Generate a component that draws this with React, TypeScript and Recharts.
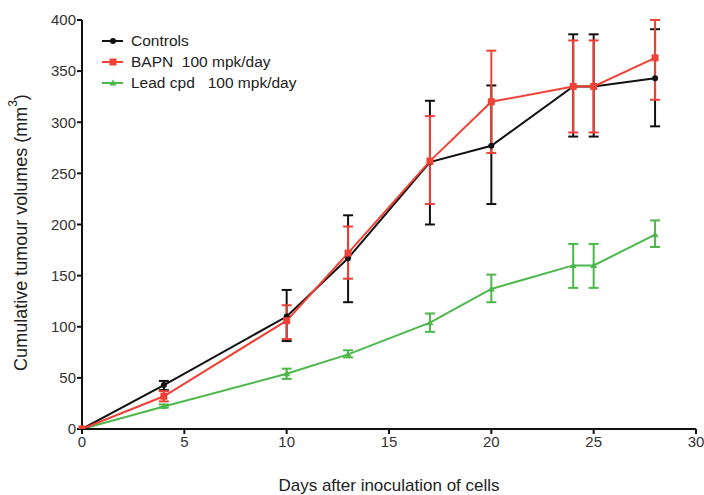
import React from 'react';
import { LineChart, Line, XAxis, YAxis, ErrorBar, Label } from 'recharts';

const days = [0, 4, 10, 13, 17, 20, 24, 25, 28];

const controlsMean = [0, 43, 110, 167, 261, 277, 335, 335, 343];
const controlsLow = [0, 38, 86, 124, 200, 220, 286, 286, 296];
const controlsHigh = [0, 47, 136, 209, 321, 336, 386, 386, 391];

const bapnMean = [0, 32, 106, 172, 262, 320, 335, 335, 363];
const bapnLow = [0, 27, 88, 147, 220, 270, 290, 290, 322];
const bapnHigh = [0, 37, 121, 198, 306, 370, 380, 380, 400];

const leadMean = [0, 22, 54, 73, 104, 137, 160, 160, 190];
const leadLow = [0, 21, 49, 70, 95, 124, 138, 138, 178];
const leadHigh = [0, 24, 59, 77, 113, 151, 181, 181, 204];

const xTicks = [0, 5, 10, 15, 20, 25, 30];
const yTicks = [0, 50, 100, 150, 200, 250, 300, 350, 400];

const seriesNames = ['Controls', 'BAPN  100 mpk/day', 'Lead cpd   100 mpk/day'];
const seriesColors = ['#111111', '#ef4136', '#4cb84c'];
const seriesShapes = ['circle', 'square', 'triangle'];

const data = days.map((d, i) => ({
  day: d,
  c: controlsMean[i],
  cErr: [controlsMean[i] - controlsLow[i], controlsHigh[i] - controlsMean[i]],
  b: bapnMean[i],
  bErr: [bapnMean[i] - bapnLow[i], bapnHigh[i] - bapnMean[i]],
  l: leadMean[i],
  lErr: [leadMean[i] - leadLow[i], leadHigh[i] - leadMean[i]],
}));

function Marker({ shape, color, cx, cy }: { shape: string; color: string; cx: number; cy: number }) {
  if (shape === 'circle') return <circle cx={cx} cy={cy} r={3} fill={color} />;
  if (shape === 'square') return <rect x={cx - 3.5} y={cy - 3.5} width={7} height={7} fill={color} />;
  return <polygon points={`${cx},${cy - 3.5} ${cx + 3.5},${cy + 2.5} ${cx - 3.5},${cy + 2.5}`} fill={color} />;
}

const makeDot = (idx: number) => (props: any) => {
  const { cx, cy, index } = props;
  if (cx == null || cy == null) return <g key={index} />;
  return <Marker key={index} shape={seriesShapes[idx]} color={seriesColors[idx]} cx={cx} cy={cy} />;
};

const FONT = 'Liberation Sans, Arial, sans-serif';
const tickStyle = { fill: '#333', fontSize: 15, fontFamily: FONT };

const YLabel = (props: any) => {
  const vb = props.viewBox || { x: 0, y: 0, width: 0, height: 0 };
  const cx = vb.x + 21;
  const cy = vb.y + vb.height / 2 + 8;
  return (
    <text
      x={cx}
      y={cy}
      transform={`rotate(-90, ${cx}, ${cy})`}
      textAnchor="middle"
      dominantBaseline="central"
      fill="#222"
      fontSize={18}
      fontFamily={FONT}
    >
      Cumulative tumour volumes (mm
      <tspan fontSize={12} dy={-8}>3</tspan>
      <tspan dy={8}>)</tspan>
    </text>
  );
};

const XLabel = (props: any) => {
  const vb = props.viewBox || { x: 0, y: 0, width: 0, height: 0 };
  return (
    <text
      x={vb.x + vb.width / 2}
      y={491}
      textAnchor="middle"
      fill="#222"
      fontSize={17}
      fontFamily={FONT}
    >
      Days after inoculation of cells
    </text>
  );
};

export default function App() {
  return (
    <div style={{ position: 'absolute', left: 0, top: 0, width: 704, height: 495, background: '#fff' }}>
      <LineChart width={704} height={495} data={data} margin={{ top: 20, right: 8, bottom: 0, left: 0 }}>
        <XAxis
          dataKey="day"
          type="number"
          domain={[0, 30]}
          ticks={xTicks}
          height={66}
          tickSize={5}
          tickMargin={2}
          tick={tickStyle}
          axisLine={{ stroke: '#111', strokeWidth: 2 }}
          tickLine={{ stroke: '#111', strokeWidth: 2 }}
        >
          <Label content={<XLabel />} />
        </XAxis>
        <YAxis
          type="number"
          domain={[0, 400]}
          allowDataOverflow
          ticks={yTicks}
          width={82}
          tickSize={5}
          tickMargin={1}
          tick={tickStyle}
          axisLine={{ stroke: '#111', strokeWidth: 2 }}
          tickLine={{ stroke: '#111', strokeWidth: 2 }}
        >
          <Label content={<YLabel />} />
        </YAxis>
        <Line dataKey="l" stroke={seriesColors[2]} strokeWidth={2} dot={makeDot(2)} isAnimationActive={false}>
          <ErrorBar dataKey="lErr" width={5} stroke={seriesColors[2]} strokeWidth={2} />
        </Line>
        <Line dataKey="c" stroke={seriesColors[0]} strokeWidth={2} dot={makeDot(0)} isAnimationActive={false}>
          <ErrorBar dataKey="cErr" width={5} stroke={seriesColors[0]} strokeWidth={2} />
        </Line>
        <Line dataKey="b" stroke={seriesColors[1]} strokeWidth={2} dot={makeDot(1)} isAnimationActive={false}>
          <ErrorBar dataKey="bErr" width={5} stroke={seriesColors[1]} strokeWidth={2} />
        </Line>
      </LineChart>
      <div style={{ position: 'absolute', left: 100, top: 30, fontFamily: FONT, fontSize: 15.5, color: '#222' }}>
        {seriesNames.map((name, i) => (
          <div key={name} style={{ display: 'flex', alignItems: 'center', height: 21, whiteSpace: 'pre' }}>
            <svg width={28} height={12} style={{ marginRight: 3 }}>
              <line x1={2} y1={6} x2={23} y2={6} stroke={seriesColors[i]} strokeWidth={2} />
              <Marker shape={seriesShapes[i]} color={seriesColors[i]} cx={13} cy={6} />
            </svg>
            <span>{name}</span>
          </div>
        ))}
      </div>
    </div>
  );
}
